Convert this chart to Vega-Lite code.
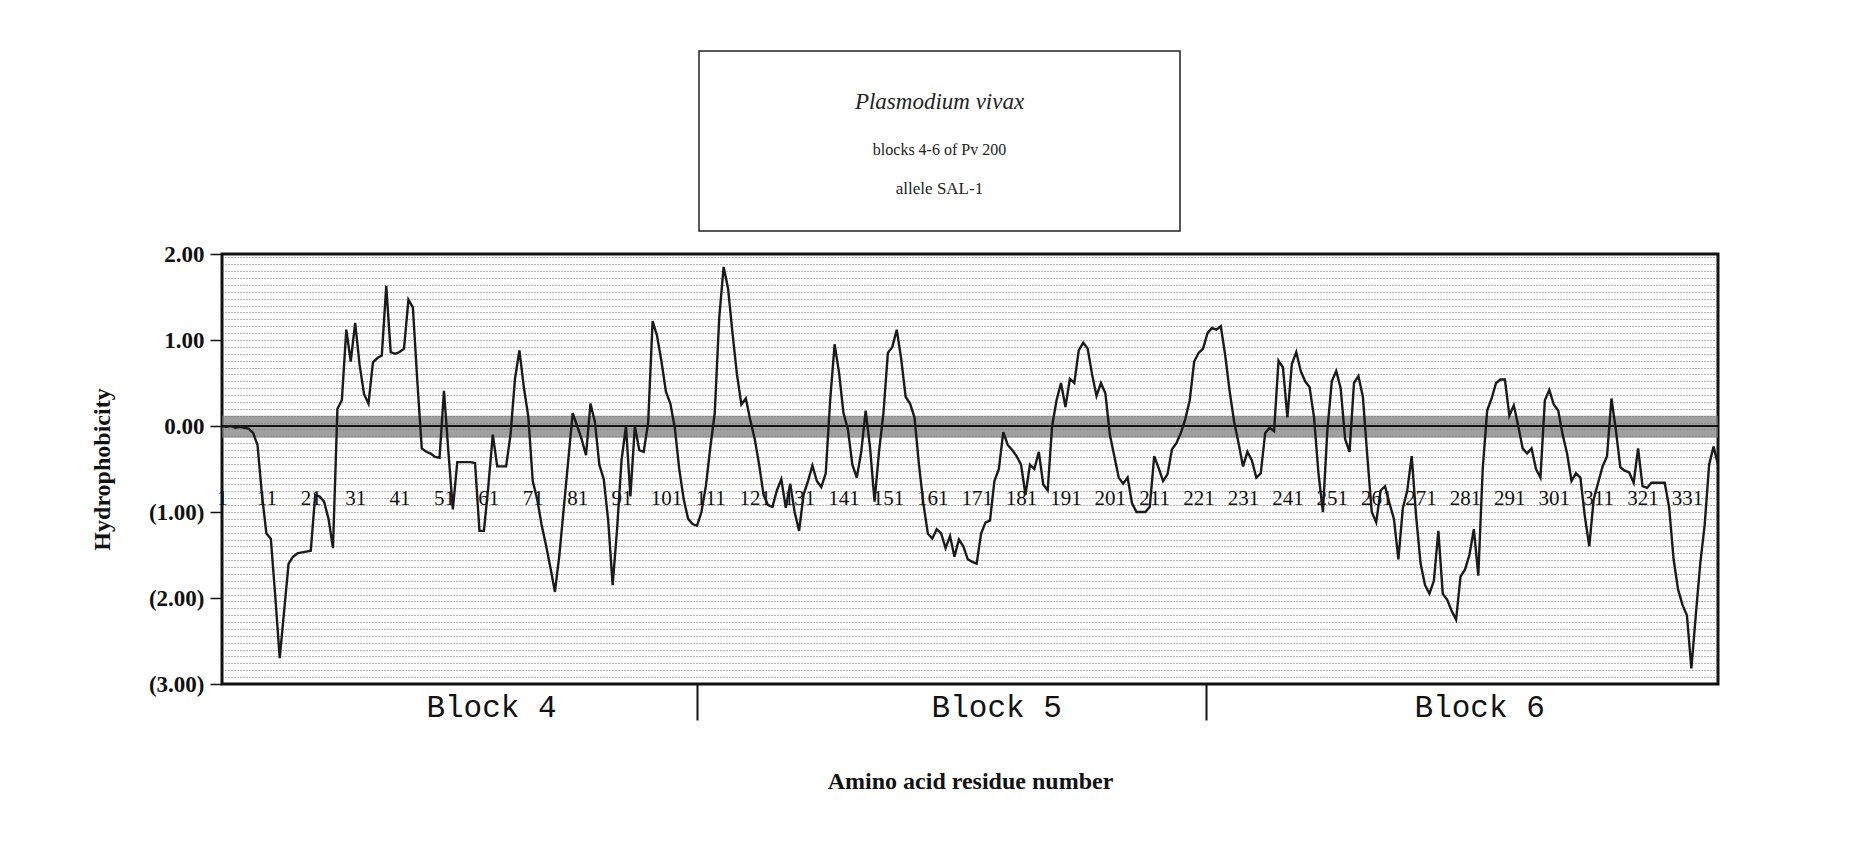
{
"$schema": "https://vega.github.io/schema/vega-lite/v6.json",
"background": "white",
"padding": {"left": 88, "top": 50, "right": 5, "bottom": 5},
"config": {"view": {"stroke": null}, "font": "Liberation Serif"},
"spacing": 9,
"vconcat": [
{"spacing": 0, "hconcat": [
  {"width": 476, "height": 180, "data": {"values": []}, "mark": "text"},
  {"width": 481, "height": 180, "view": {"stroke": "#222", "strokeWidth": 1.5},
   "data": {"values": [{"line": 1, "text": "Plasmodium vivax"}, {"line": 2, "text": "blocks 4-6 of Pv 200"}, {"line": 3, "text": "allele SAL-1"}]},
   "layer": [
    {"transform": [{"filter": "datum.line == 1"}], "mark": {"type": "text", "font": "Liberation Serif", "fontStyle": "italic", "fontSize": 23, "color": "#222", "dy": 11},
     "encoding": {"text": {"field": "text"}, "y": {"field": "line", "type": "ordinal", "scale": {"type": "point", "domain": [1, 2, 3], "padding": 0.8}, "axis": null}}},
    {"transform": [{"filter": "datum.line == 2"}], "mark": {"type": "text", "font": "Liberation Serif", "fontSize": 16, "color": "#222", "dy": 9},
     "encoding": {"text": {"field": "text"}, "y": {"field": "line", "type": "ordinal", "axis": null}}},
    {"transform": [{"filter": "datum.line == 3"}], "mark": {"type": "text", "font": "Liberation Serif", "fontSize": 17, "color": "#222", "dy": -2},
     "encoding": {"text": {"field": "text"}, "y": {"field": "line", "type": "ordinal", "axis": null}}}
   ]}
]},
{"width": 1496, "height": 430,
 "view": {"stroke": "#111", "strokeWidth": 3},
 "data": {"values": [
{"r":1,"h":0.00},{"r":2,"h":-0.01},{"r":3,"h":0.00},{"r":4,"h":-0.02},{"r":5,"h":-0.01},{"r":6,"h":-0.02},{"r":7,"h":-0.03},{"r":8,"h":-0.08},{"r":9,"h":-0.22},{"r":10,"h":-0.80},
{"r":11,"h":-1.25},{"r":12,"h":-1.31},{"r":13,"h":-1.98},{"r":14,"h":-2.70},{"r":15,"h":-2.15},{"r":16,"h":-1.60},{"r":17,"h":-1.52},{"r":18,"h":-1.48},{"r":19,"h":-1.47},{"r":20,"h":-1.46},
{"r":21,"h":-1.45},{"r":22,"h":-0.80},{"r":23,"h":-0.82},{"r":24,"h":-0.88},{"r":25,"h":-1.08},{"r":26,"h":-1.42},{"r":27,"h":0.20},{"r":28,"h":0.30},{"r":29,"h":1.12},{"r":30,"h":0.75},
{"r":31,"h":1.20},{"r":32,"h":0.71},{"r":33,"h":0.37},{"r":34,"h":0.26},{"r":35,"h":0.74},{"r":36,"h":0.79},{"r":37,"h":0.82},{"r":38,"h":1.63},{"r":39,"h":0.86},{"r":40,"h":0.84},
{"r":41,"h":0.86},{"r":42,"h":0.90},{"r":43,"h":1.47},{"r":44,"h":1.38},{"r":45,"h":0.52},{"r":46,"h":-0.26},{"r":47,"h":-0.30},{"r":48,"h":-0.32},{"r":49,"h":-0.36},{"r":50,"h":-0.37},
{"r":51,"h":0.41},{"r":52,"h":-0.30},{"r":53,"h":-0.97},{"r":54,"h":-0.42},{"r":55,"h":-0.42},{"r":56,"h":-0.42},{"r":57,"h":-0.42},{"r":58,"h":-0.43},{"r":59,"h":-1.22},{"r":60,"h":-1.22},
{"r":61,"h":-0.70},{"r":62,"h":-0.10},{"r":63,"h":-0.47},{"r":64,"h":-0.47},{"r":65,"h":-0.47},{"r":66,"h":-0.10},{"r":67,"h":0.55},{"r":68,"h":0.88},{"r":69,"h":0.45},{"r":70,"h":0.11},
{"r":71,"h":-0.64},{"r":72,"h":-0.85},{"r":73,"h":-1.15},{"r":74,"h":-1.39},{"r":75,"h":-1.65},{"r":76,"h":-1.93},{"r":77,"h":-1.50},{"r":78,"h":-0.95},{"r":79,"h":-0.40},{"r":80,"h":0.15},
{"r":81,"h":0.00},{"r":82,"h":-0.15},{"r":83,"h":-0.34},{"r":84,"h":0.26},{"r":85,"h":0.05},{"r":86,"h":-0.45},{"r":87,"h":-0.62},{"r":88,"h":-1.10},{"r":89,"h":-1.85},{"r":90,"h":-1.20},
{"r":91,"h":-0.40},{"r":92,"h":0.00},{"r":93,"h":-0.82},{"r":94,"h":0.00},{"r":95,"h":-0.28},{"r":96,"h":-0.30},{"r":97,"h":0.04},{"r":98,"h":1.22},{"r":99,"h":1.05},{"r":100,"h":0.75},
{"r":101,"h":0.40},{"r":102,"h":0.26},{"r":103,"h":-0.02},{"r":104,"h":-0.50},{"r":105,"h":-0.85},{"r":106,"h":-1.08},{"r":107,"h":-1.14},{"r":108,"h":-1.16},{"r":109,"h":-1.00},{"r":110,"h":-0.70},
{"r":111,"h":-0.25},{"r":112,"h":0.15},{"r":113,"h":1.25},{"r":114,"h":1.85},{"r":115,"h":1.60},{"r":116,"h":1.08},{"r":117,"h":0.60},{"r":118,"h":0.25},{"r":119,"h":0.32},{"r":120,"h":0.07},
{"r":121,"h":-0.15},{"r":122,"h":-0.45},{"r":123,"h":-0.80},{"r":124,"h":-0.92},{"r":125,"h":-0.94},{"r":126,"h":-0.75},{"r":127,"h":-0.62},{"r":128,"h":-0.95},{"r":129,"h":-0.67},{"r":130,"h":-1.00},
{"r":131,"h":-1.22},{"r":132,"h":-0.80},{"r":133,"h":-0.64},{"r":134,"h":-0.46},{"r":135,"h":-0.64},{"r":136,"h":-0.71},{"r":137,"h":-0.55},{"r":138,"h":0.30},{"r":139,"h":0.95},{"r":140,"h":0.62},
{"r":141,"h":0.15},{"r":142,"h":-0.04},{"r":143,"h":-0.45},{"r":144,"h":-0.60},{"r":145,"h":-0.30},{"r":146,"h":0.18},{"r":147,"h":-0.26},{"r":148,"h":-0.88},{"r":149,"h":-0.30},{"r":150,"h":0.15},
{"r":151,"h":0.85},{"r":152,"h":0.92},{"r":153,"h":1.12},{"r":154,"h":0.78},{"r":155,"h":0.34},{"r":156,"h":0.26},{"r":157,"h":0.10},{"r":158,"h":-0.45},{"r":159,"h":-0.90},{"r":160,"h":-1.25},
{"r":161,"h":-1.31},{"r":162,"h":-1.20},{"r":163,"h":-1.25},{"r":164,"h":-1.42},{"r":165,"h":-1.28},{"r":166,"h":-1.52},{"r":167,"h":-1.32},{"r":168,"h":-1.40},{"r":169,"h":-1.55},{"r":170,"h":-1.58},
{"r":171,"h":-1.60},{"r":172,"h":-1.25},{"r":173,"h":-1.12},{"r":174,"h":-1.10},{"r":175,"h":-0.64},{"r":176,"h":-0.50},{"r":177,"h":-0.07},{"r":178,"h":-0.22},{"r":179,"h":-0.28},{"r":180,"h":-0.35},
{"r":181,"h":-0.45},{"r":182,"h":-0.80},{"r":183,"h":-0.45},{"r":184,"h":-0.50},{"r":185,"h":-0.30},{"r":186,"h":-0.68},{"r":187,"h":-0.75},{"r":188,"h":0.00},{"r":189,"h":0.30},{"r":190,"h":0.50},
{"r":191,"h":0.22},{"r":192,"h":0.55},{"r":193,"h":0.50},{"r":194,"h":0.88},{"r":195,"h":0.97},{"r":196,"h":0.90},{"r":197,"h":0.60},{"r":198,"h":0.35},{"r":199,"h":0.50},{"r":200,"h":0.38},
{"r":201,"h":-0.10},{"r":202,"h":-0.35},{"r":203,"h":-0.60},{"r":204,"h":-0.67},{"r":205,"h":-0.60},{"r":206,"h":-0.90},{"r":207,"h":-1.00},{"r":208,"h":-1.00},{"r":209,"h":-1.00},{"r":210,"h":-0.94},
{"r":211,"h":-0.35},{"r":212,"h":-0.49},{"r":213,"h":-0.64},{"r":214,"h":-0.56},{"r":215,"h":-0.27},{"r":216,"h":-0.20},{"r":217,"h":-0.08},{"r":218,"h":0.08},{"r":219,"h":0.30},{"r":220,"h":0.75},
{"r":221,"h":0.85},{"r":222,"h":0.90},{"r":223,"h":1.08},{"r":224,"h":1.14},{"r":225,"h":1.12},{"r":226,"h":1.16},{"r":227,"h":0.82},{"r":228,"h":0.40},{"r":229,"h":0.05},{"r":230,"h":-0.20},
{"r":231,"h":-0.47},{"r":232,"h":-0.30},{"r":233,"h":-0.40},{"r":234,"h":-0.60},{"r":235,"h":-0.55},{"r":236,"h":-0.08},{"r":237,"h":-0.02},{"r":238,"h":-0.06},{"r":239,"h":0.76},{"r":240,"h":0.68},
{"r":241,"h":0.10},{"r":242,"h":0.72},{"r":243,"h":0.86},{"r":244,"h":0.64},{"r":245,"h":0.52},{"r":246,"h":0.45},{"r":247,"h":0.10},{"r":248,"h":-0.55},{"r":249,"h":-1.00},{"r":250,"h":-0.05},
{"r":251,"h":0.52},{"r":252,"h":0.64},{"r":253,"h":0.44},{"r":254,"h":-0.15},{"r":255,"h":-0.30},{"r":256,"h":0.50},{"r":257,"h":0.58},{"r":258,"h":0.34},{"r":259,"h":-0.35},{"r":260,"h":-1.00},
{"r":261,"h":-1.12},{"r":262,"h":-0.75},{"r":263,"h":-0.70},{"r":264,"h":-0.90},{"r":265,"h":-1.08},{"r":266,"h":-1.55},{"r":267,"h":-0.96},{"r":268,"h":-0.75},{"r":269,"h":-0.35},{"r":270,"h":-1.05},
{"r":271,"h":-1.60},{"r":272,"h":-1.85},{"r":273,"h":-1.95},{"r":274,"h":-1.80},{"r":275,"h":-1.22},{"r":276,"h":-1.95},{"r":277,"h":-2.02},{"r":278,"h":-2.15},{"r":279,"h":-2.25},{"r":280,"h":-1.75},
{"r":281,"h":-1.67},{"r":282,"h":-1.50},{"r":283,"h":-1.20},{"r":284,"h":-1.74},{"r":285,"h":-0.50},{"r":286,"h":0.18},{"r":287,"h":0.32},{"r":288,"h":0.50},{"r":289,"h":0.54},{"r":290,"h":0.54},
{"r":291,"h":0.12},{"r":292,"h":0.24},{"r":293,"h":0.00},{"r":294,"h":-0.26},{"r":295,"h":-0.32},{"r":296,"h":-0.26},{"r":297,"h":-0.50},{"r":298,"h":-0.60},{"r":299,"h":0.30},{"r":300,"h":0.42},
{"r":301,"h":0.25},{"r":302,"h":0.18},{"r":303,"h":-0.10},{"r":304,"h":-0.32},{"r":305,"h":-0.64},{"r":306,"h":-0.55},{"r":307,"h":-0.60},{"r":308,"h":-1.05},{"r":309,"h":-1.40},{"r":310,"h":-0.85},
{"r":311,"h":-0.66},{"r":312,"h":-0.47},{"r":313,"h":-0.35},{"r":314,"h":0.32},{"r":315,"h":-0.05},{"r":316,"h":-0.48},{"r":317,"h":-0.52},{"r":318,"h":-0.54},{"r":319,"h":-0.66},{"r":320,"h":-0.26},
{"r":321,"h":-0.70},{"r":322,"h":-0.72},{"r":323,"h":-0.66},{"r":324,"h":-0.66},{"r":325,"h":-0.66},{"r":326,"h":-0.66},{"r":327,"h":-0.95},{"r":328,"h":-1.55},{"r":329,"h":-1.90},{"r":330,"h":-2.08},
{"r":331,"h":-2.20},{"r":332,"h":-2.82},{"r":333,"h":-2.20},{"r":334,"h":-1.60},{"r":335,"h":-1.15},{"r":336,"h":-0.45},{"r":337,"h":-0.24},{"r":338,"h":-0.45}
 ]},
 "resolve": {"axis": {"x": "independent", "y": "independent"}},
 "layer": [
  {"mark": {"type": "point", "opacity": 0},
   "encoding": {
    "x": {"field": "r", "type": "quantitative", "scale": {"domain": [1, 338], "nice": false, "zero": false},
      "axis": {"orient": "bottom", "values": [61.6, 107.9, 175.4, 222.6, 284.2],
        "labelExpr": "datum.value == 61.6 ? 'Block 4' : datum.value == 175.4 ? 'Block 5' : datum.value == 284.2 ? 'Block 6' : ''",
        "domain": false, "grid": false, "ticks": true, "tickSize": 36, "tickWidth": 2, "tickColor": "#111",
        "tickOpacity": {"condition": {"test": "datum.value == 107.9 || datum.value == 222.6", "value": 1}, "value": 0},
        "labelFont": "Liberation Mono", "labelFontSize": 31, "labelColor": "#111", "labelBaseline": "middle", "labelPadding": -13,
        "labelOverlap": false, "labelFlush": false,
        "title": "Amino acid residue number", "titleFont": "Liberation Serif", "titleFontSize": 24, "titleFontWeight": "bold", "titleColor": "#111", "titlePadding": 47}},
    "y": {"field": "h", "type": "quantitative", "scale": {"domain": [-3, 2], "nice": false, "zero": false},
      "axis": {"orient": "left", "values": [-2.92,-2.84,-2.76,-2.68,-2.6,-2.52,-2.44,-2.36,-2.28,-2.2,-2.12,-2.04,-1.96,-1.88,-1.8,-1.72,-1.64,-1.56,-1.48,-1.4,-1.32,-1.24,-1.16,-1.08,-1,-0.92,-0.84,-0.76,-0.68,-0.6,-0.52,-0.44,-0.36,-0.28,-0.2,-0.12,-0.04,0.04,0.12,0.2,0.28,0.36,0.44,0.52,0.6,0.68,0.76,0.84,0.92,1,1.08,1.16,1.24,1.32,1.4,1.48,1.56,1.64,1.72,1.8,1.88,1.96],
        "grid": true, "gridColor": "#555", "gridDash": [1, 2], "gridWidth": 1, "gridOpacity": 0.85,
        "labels": false, "ticks": false, "domain": false, "title": null}}
   }},
  {"data": {"values": [{}]},
   "mark": {"type": "rule", "strokeWidth": 22, "color": "#777", "opacity": 0.7},
   "encoding": {"y": {"datum": -0.01, "type": "quantitative", "axis": null}}},
  {"data": {"values": [{}]},
   "mark": {"type": "rule", "strokeWidth": 2, "color": "#111"},
   "encoding": {"y": {"datum": 0, "type": "quantitative", "axis": null}}},
  {"mark": {"type": "line", "color": "#1a1a1a", "strokeWidth": 2.4},
   "encoding": {
    "x": {"field": "r", "type": "quantitative",
      "axis": {"orient": "bottom", "offset": -186, "values": [1,11,21,31,41,51,61,71,81,91,101,111,121,131,141,151,161,171,181,191,201,211,221,231,241,251,261,271,281,291,301,311,321,331],
        "ticks": false, "domain": false, "grid": false, "labelPadding": 0, "labelBaseline": "middle",
        "labelFont": "Liberation Serif", "labelFontSize": 21, "labelColor": "#111", "labelOverlap": false, "labelFlush": false, "title": null}},
    "y": {"field": "h", "type": "quantitative",
      "axis": {"orient": "left", "values": [-3, -2, -1, 0, 1, 2],
        "labelExpr": "datum.value < 0 ? '(' + format(-datum.value, '.2f') + ')' : format(datum.value, '.2f')",
        "domain": false, "grid": false, "tickSize": 12, "tickWidth": 1.5, "tickColor": "#111", "labelPadding": 6,
        "labelFont": "Liberation Serif", "labelFontSize": 23, "labelFontWeight": "bold", "labelColor": "#111",
        "title": "Hydrophobicity", "titleFont": "Liberation Serif", "titleFontSize": 24, "titleFontWeight": "bold", "titleColor": "#111", "titlePadding": 34}}
   }}
 ]}
]
}
